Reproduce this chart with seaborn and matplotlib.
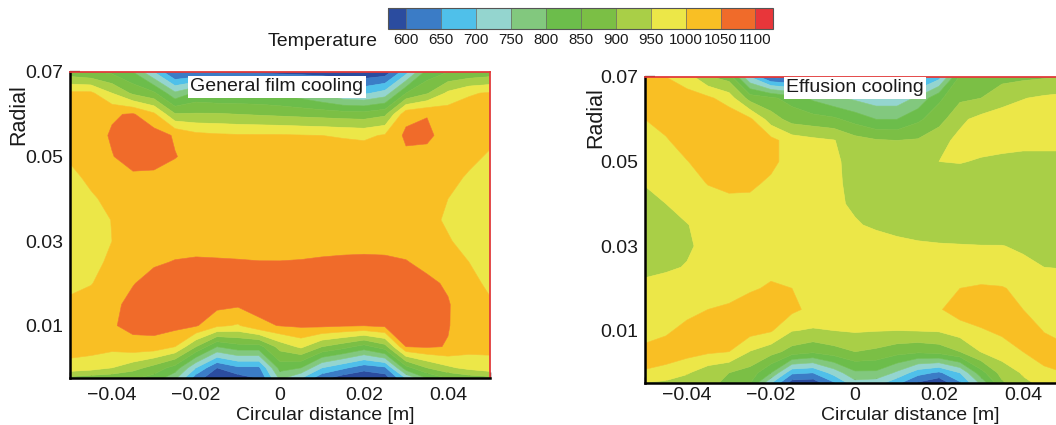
import matplotlib
matplotlib.use("Agg")
import matplotlib.pyplot as plt
import matplotlib.ticker as mticker
from matplotlib.colors import ListedColormap, BoundaryNorm
from matplotlib.cm import ScalarMappable
import seaborn as sns

# ---------------- data ----------------
x_pos = [-0.05, -0.045, -0.04, -0.035, -0.03, -0.025, -0.02, -0.015, -0.01, -0.005, 0.0,
         0.005, 0.01, 0.015, 0.02, 0.025, 0.03, 0.035, 0.04, 0.045, 0.05]
y_pos = [0.07, 0.065, 0.06, 0.055, 0.05, 0.045, 0.04, 0.035, 0.03, 0.025, 0.02,
         0.015, 0.01, 0.005, 0.0, -0.0025]

levels = [600, 650, 700, 750, 800, 850, 900, 950, 1000, 1050, 1100]
level_labels = ["600", "650", "700", "750", "800", "850", "900", "950", "1000", "1050", "1100"]
band_colors = ["#2b4c9f", "#3b7cc6", "#4fc0ea", "#94d5cf", "#82c87e", "#6cbd4b",
               "#7bbf45", "#a9cf47", "#ece748", "#f9bf24", "#f06b2a", "#e8363a"]

film_T = [
    [870, 855, 840, 800, 700, 590, 600, 590, 585, 585, 580, 575, 570, 565, 560, 570, 680, 820, 850, 860, 870],
    [1010, 1010, 950, 890, 860, 760, 810, 800, 800, 800, 790, 770, 740, 700, 690, 720, 850, 895, 960, 995, 1005],
    [1025, 1030, 1045, 1055, 1010, 905, 905, 905, 900, 895, 890, 885, 880, 875, 872, 890, 1035, 1048, 1030, 1025, 1020],
    [1020, 1030, 1055, 1078, 1072, 1045, 1015, 1008, 1005, 1005, 1005, 1002, 1000, 995, 990, 1005, 1060, 1060, 1030, 1020, 1010],
    [1005, 1020, 1048, 1068, 1064, 1052, 1035, 1030, 1030, 1030, 1030, 1030, 1030, 1030, 1030, 1032, 1040, 1035, 1022, 1010, 995],
    [990, 1008, 1025, 1042, 1042, 1032, 1028, 1028, 1028, 1028, 1028, 1028, 1028, 1028, 1028, 1028, 1028, 1025, 1012, 995, 975],
    [975, 995, 1010, 1020, 1025, 1028, 1028, 1028, 1028, 1028, 1028, 1028, 1028, 1028, 1028, 1028, 1025, 1015, 1000, 985, 965],
    [965, 985, 1001, 1015, 1025, 1028, 1030, 1030, 1030, 1030, 1030, 1030, 1030, 1030, 1030, 1030, 1025, 1010, 995, 980, 962],
    [962, 982, 1000, 1015, 1028, 1035, 1038, 1038, 1038, 1036, 1035, 1036, 1038, 1040, 1040, 1040, 1035, 1018, 1003, 988, 968],
    [968, 988, 1008, 1030, 1045, 1052, 1054, 1053, 1052, 1051, 1051, 1052, 1054, 1055, 1056, 1055, 1052, 1040, 1020, 1000, 980],
    [990, 998, 1020, 1048, 1065, 1072, 1075, 1075, 1075, 1075, 1075, 1077, 1078, 1078, 1078, 1075, 1070, 1058, 1045, 1012, 992],
    [1008, 1018, 1040, 1062, 1072, 1075, 1072, 1065, 1058, 1065, 1075, 1078, 1077, 1074, 1070, 1072, 1072, 1068, 1053, 1025, 1005],
    [1020, 1028, 1045, 1065, 1068, 1065, 1055, 1010, 995, 1040, 1052, 1058, 1060, 1055, 1052, 1060, 1062, 1062, 1052, 1030, 1015],
    [1018, 1020, 1015, 1030, 1030, 1000, 900, 800, 830, 830, 920, 960, 900, 870, 830, 880, 1050, 1055, 1048, 1020, 1010],
    [985, 972, 950, 920, 880, 830, 700, 600, 640, 640, 820, 800, 700, 660, 620, 640, 830, 900, 940, 965, 985],
    [880, 870, 865, 855, 830, 760, 620, 560, 575, 600, 760, 700, 610, 570, 555, 570, 700, 800, 850, 870, 880],
]

effusion_T = [
    [1000, 1000, 975, 905, 880, 700, 590, 575, 570, 570, 575, 590, 600, 620, 680, 860, 880, 885, 890, 895, 900],
    [1015, 1025, 1020, 1010, 975, 880, 860, 830, 790, 760, 740, 720, 720, 760, 840, 890, 900, 930, 948, 958, 965],
    [1000, 1020, 1035, 1040, 1035, 1010, 925, 880, 870, 860, 830, 800, 800, 840, 880, 940, 965, 975, 975, 975, 975],
    [985, 995, 1025, 1040, 1042, 1032, 1015, 975, 962, 952, 920, 905, 900, 905, 935, 962, 970, 975, 975, 975, 975],
    [968, 985, 998, 1025, 1038, 1035, 1012, 980, 965, 955, 940, 928, 922, 925, 950, 953, 945, 935, 925, 925, 925],
    [953, 975, 985, 1002, 1012, 1010, 992, 980, 970, 958, 938, 925, 920, 918, 920, 922, 922, 922, 922, 922, 922],
    [935, 950, 970, 985, 988, 988, 982, 976, 970, 956, 945, 932, 926, 922, 920, 920, 920, 920, 921, 923, 925],
    [925, 935, 948, 968, 978, 984, 982, 978, 972, 962, 953, 945, 938, 935, 932, 930, 928, 926, 925, 925, 928],
    [920, 925, 945, 960, 975, 980, 982, 980, 978, 975, 970, 965, 960, 955, 953, 952, 951, 951, 945, 940, 938],
    [940, 945, 952, 968, 978, 985, 990, 985, 980, 978, 975, 972, 970, 968, 966, 965, 963, 962, 958, 950, 948],
    [960, 965, 970, 975, 985, 995, 1005, 1000, 985, 978, 975, 975, 975, 975, 985, 1000, 1008, 1004, 985, 975, 970],
    [970, 980, 990, 1000, 1006, 1020, 1025, 1012, 985, 975, 970, 968, 968, 972, 995, 1025, 1030, 1025, 1000, 990, 975],
    [985, 995, 1010, 1020, 1025, 1020, 1005, 952, 945, 950, 955, 952, 950, 952, 955, 975, 995, 1010, 1025, 998, 985],
    [1010, 1015, 1020, 1008, 1000, 948, 920, 880, 860, 880, 900, 890, 870, 860, 870, 900, 952, 975, 1000, 1020, 1010],
    [998, 990, 955, 920, 900, 880, 800, 660, 650, 720, 790, 790, 740, 670, 640, 700, 830, 920, 955, 990, 1000],
    [945, 935, 925, 910, 890, 850, 700, 570, 565, 640, 730, 720, 660, 590, 555, 640, 760, 890, 940, 960, 975],
]

x_major = [-0.04, -0.02, 0.0, 0.02, 0.04]
x_major_labels = ["\u22120.04", "\u22120.02", "0", "0.02", "0.04"]
y_major = [0.01, 0.03, 0.05, 0.07]
y_major_labels = ["0.01", "0.03", "0.05", "0.07"]

# ---------------- style ----------------
sns.set_theme(style="ticks")
plt.rcParams["font.family"] = ["Liberation Sans", "DejaVu Sans"]

W, H = 1056, 425
fig = plt.figure(figsize=(W / 100, H / 100), dpi=100)
fig.patch.set_facecolor("white")

palette = sns.color_palette(band_colors)
fill_levels = [0] + levels + [3000]


def draw_panel(ax, T, title, title_xy, xpad):
    cs = ax.contourf(x_pos, y_pos, T, levels=fill_levels, colors=palette, antialiased=True)
    cs.set_edgecolor("face")
    cs.set_linewidth(0.4)
    ax.set_xlim(-0.05, 0.05)
    ax.set_ylim(-0.0024, 0.07)
    ax.set_xticks(x_major)
    ax.set_xticklabels(x_major_labels)
    ax.set_yticks(y_major)
    ax.set_yticklabels(y_major_labels)
    ax.xaxis.set_minor_locator(mticker.MultipleLocator(0.005))
    ax.yaxis.set_minor_locator(mticker.MultipleLocator(0.005))
    ax.tick_params(which="major", direction="in", length=7, width=1.6, color="black",
                   labelsize=14, labelcolor="#1a1a1a", top=False, right=False)
    ax.tick_params(axis="x", which="major", pad=xpad)
    ax.tick_params(axis="y", which="major", pad=5)
    ax.tick_params(which="minor", direction="in", length=4, width=1.0, color="black",
                   top=False, right=False)
    for side in ("left", "bottom"):
        ax.spines[side].set_color("black")
        ax.spines[side].set_linewidth(1.8)
    for side in ("top", "right"):
        ax.spines[side].set_color("#e23b3b")
        ax.spines[side].set_linewidth(1.3)
    for sp in ax.spines.values():
        sp.set_zorder(5)
    ax.text(title_xy[0], title_xy[1], title, transform=ax.transAxes, ha="center", va="center",
            fontsize=14, color="#1a1a1a", zorder=6,
            bbox=dict(boxstyle="square,pad=0.12", facecolor="white", edgecolor="none"))


ax1 = fig.add_axes([70 / W, 1 - 378 / H, 420 / W, 306 / H])
ax2 = fig.add_axes([645 / W, 1 - 383 / H, 420 / W, 306 / H])
draw_panel(ax1, film_T, "General film cooling", (0.493, 0.952), 6.5)
draw_panel(ax2, effusion_T, "Effusion cooling", (0.5, 0.965), 3)

# axis labels
fig.text(19 / W, 1 - 115 / H, "Radial", rotation=90, ha="center", va="center",
         fontsize=15.5, color="#1a1a1a")
fig.text(596 / W, 1 - 118 / H, "Radial", rotation=90, ha="center", va="center",
         fontsize=15.5, color="#1a1a1a")
fig.text(325 / W, 1 - 415 / H, "Circular distance [m]", ha="center", va="center",
         fontsize=14, color="#1a1a1a")
fig.text(910 / W, 1 - 415 / H, "Circular distance [m]", ha="center", va="center",
         fontsize=14, color="#1a1a1a")

# colour legend
cax = fig.add_axes([388 / W, 1 - 29 / H, 385 / W, 21 / H])
bounds = [575] + levels + [1125]
norm = BoundaryNorm(bounds, len(band_colors))
sm = ScalarMappable(norm=norm, cmap=ListedColormap(band_colors))
cb = fig.colorbar(sm, cax=cax, orientation="horizontal", spacing="proportional",
                  ticks=levels, drawedges=True)
cb.set_ticklabels(level_labels)
cb.ax.minorticks_off()
cb.ax.tick_params(which="both", length=0, labelsize=10.8, pad=3, labelcolor="#1a1a1a")
cb.outline.set_edgecolor("#555555")
cb.outline.set_linewidth(0.8)
cb.dividers.set_color("#666666")
cb.dividers.set_linewidth(0.5)
fig.text(378 / W, 1 - 41 / H, "Temperature", ha="right", va="center",
         fontsize=14, color="#1a1a1a")

fig.savefig("out.png", dpi=100)
